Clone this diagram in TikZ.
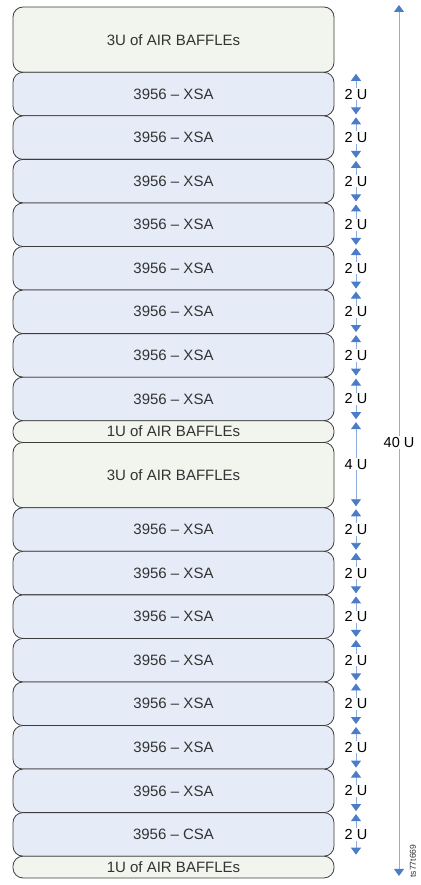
\documentclass[tikz,border=0pt]{standalone}
\usepackage{fontspec}
\setmainfont{Liberation Sans}
\usetikzlibrary{arrows.meta, positioning, calc}
\definecolor{rackBlue}{HTML}{E6ECF7}
\definecolor{baffleGrey}{HTML}{F2F4EE}
\definecolor{edgeGrey}{HTML}{3C3C3C}
\definecolor{textGrey}{HTML}{333333}
\definecolor{dimBlue}{HTML}{4A7CC8}
\definecolor{dimLine}{HTML}{8EAEE0}
\tikzset{
    % Rack units
    unitBox/.style={rectangle, rounded corners=10pt, draw=edgeGrey, line width=0.8pt,
        minimum width=321pt, inner sep=0pt, outer sep=0pt, text=textGrey,
        font=\fontsize{15}{18}\selectfont},
    xsaBox/.style={unitBox, fill=rackBlue, minimum height=43.55pt},
    baffleBox/.style={unitBox, fill=baffleGrey},
    % Dimensions
    dimArrow/.style={{Triangle[width=10pt,length=7pt,color=dimBlue]}-{Triangle[width=10pt,length=7pt,color=dimBlue]},
        draw=dimLine, line width=0.9pt, shorten <=1.5pt, shorten >=1.5pt},
    dimLabel/.style={fill=white, inner sep=1pt, text=black, font=\fontsize{14.5}{17}\selectfont}
}

\begin{document}
\begin{tikzpicture}[x=1pt, y=-1pt]
    \useasboundingbox (0,0) rectangle (420,885);

    % Upper half
    \node[baffleBox, minimum height=65.3pt, anchor=north west] (b1) at (13,7) {3U of AIR BAFFLEs};
    \node[xsaBox, below=0pt of b1] (x1) {3956 -- XSA};
    \foreach \i [remember=\i as \j (initially 1)] in {2,...,8}
        \node[xsaBox, below=0pt of x\j] (x\i) {3956 -- XSA};
    \node[baffleBox, minimum height=21.775pt, below=0pt of x8] (b2) {1U of AIR BAFFLEs};

    % Lower half
    \node[baffleBox, minimum height=65.3pt, below=0pt of b2] (b3) {3U of AIR BAFFLEs};
    \node[xsaBox, below=0pt of b3] (x9) {3956 -- XSA};
    \foreach \i [remember=\i as \j (initially 9)] in {10,...,15}
        \node[xsaBox, below=0pt of x\j] (x\i) {3956 -- XSA};
    \node[xsaBox, below=0pt of x15] (c1) {3956 -- CSA};
    \node[baffleBox, minimum height=21.775pt, below=0pt of c1] (b4) {1U of AIR BAFFLEs};

    % Unit heights
    \coordinate (dimX) at (356,0);
    \coordinate (totX) at (399,0);
    \foreach \n in {x1,x2,x3,x4,x5,x6,x7,x8,x9,x10,x11,x12,x13,x14,x15,c1}
        \draw[dimArrow] (\n.north -| dimX) -- node[dimLabel] {2 U} (\n.south -| dimX);
    \draw[dimArrow] (b2.north -| dimX) -- node[dimLabel] {4 U} (b3.south -| dimX);
    \draw[dimArrow, shorten <=-2pt, shorten >=2pt] (b1.north -| totX) -- node[dimLabel] {40 U} (b4.south -| totX);

    \node[rotate=90, text=textGrey, font=\fontsize{8.6}{10}\selectfont] (figId) at (413,861) {ts77t669};
\end{tikzpicture}
\end{document}
